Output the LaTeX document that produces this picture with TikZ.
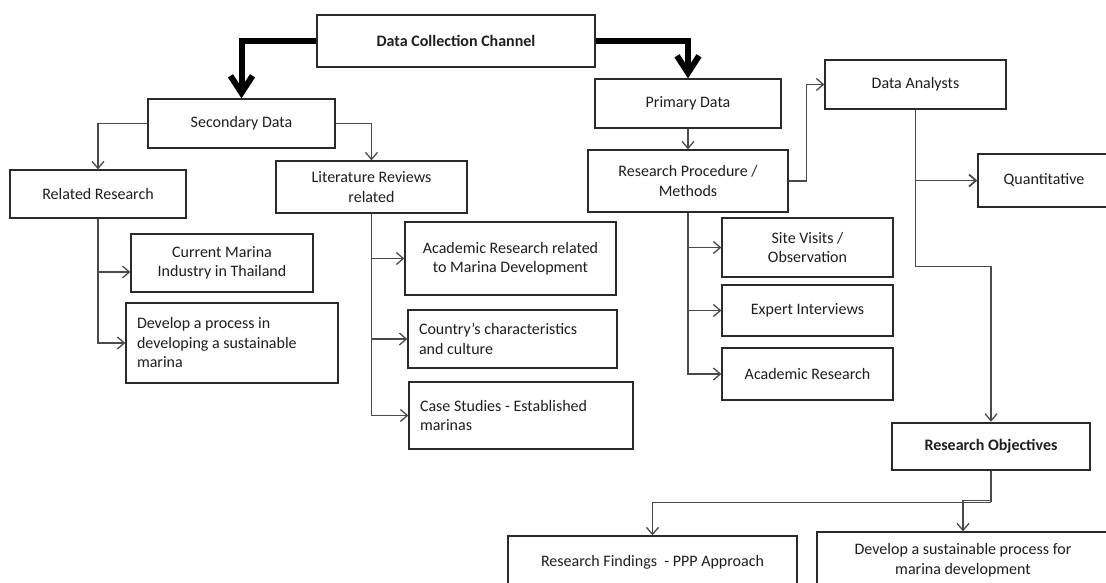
\documentclass[tikz,border=0pt]{standalone}
\usepackage{fontspec}
\setmainfont{Carlito}
\usetikzlibrary{arrows.meta,calc}
\definecolor{boxline}{HTML}{2A2A2A}
\definecolor{wire}{HTML}{4A4A4A}
\definecolor{ink}{HTML}{1E1E1E}
\begin{document}
\begin{tikzpicture}[x=1pt,y=-1pt,
  box/.style={draw=boxline,line width=1.3pt,inner sep=0pt,text=ink,
    font=\fontsize{16}{19.5}\selectfont,align=center},
  leftbox/.style={box,align=flush left},
  keybox/.style={box,line width=2.6pt,font=\fontsize{16}{19.5}\selectfont\bfseries},
  link/.style={draw=wire,line width=1.3pt,-{Straight Barb[length=7pt,width=12pt]}},
  trunk/.style={draw=wire,line width=1.3pt},
  bigarrow/.style={draw=black,line width=6pt,-{Straight Barb[length=17pt,width=22pt]}}]

\useasboundingbox (0,0) rectangle (1106,583);
\fill[white] (0,0) rectangle (1106,583);
\clip (0,0) rectangle (1106,583);

% top of the tree
\node[box,font=\fontsize{16}{19.5}\selectfont\bfseries,minimum width=278pt,minimum height=52pt] (dcc) at (456,41) {Data Collection Channel};

% secondary data branch
\node[box,minimum width=187pt,minimum height=49pt] (sec) at (241.5,123.5) {Secondary Data};
\node[box,minimum width=176pt,minimum height=48pt] (rel) at (98,194) {Related Research};
\node[box,minimum width=191pt,minimum height=52pt] (lit) at (371.5,187) {Literature Reviews\\related};
\node[box,minimum width=182pt,minimum height=58pt] (cur) at (222,263) {Current Marina\\Industry in Thailand};
\node[leftbox,minimum width=212pt,minimum height=80pt,text width=190pt] (dev) at (232,343) {Develop a process in\\developing a sustainable\\marina};
\node[box,minimum width=211pt,minimum height=73pt] (acr) at (510.5,258.5) {Academic Research related\\to Marina Development};
\node[leftbox,minimum width=209pt,minimum height=58pt,text width=187pt] (cty) at (512.5,339) {Country's characteristics\\and culture};
\node[leftbox,minimum width=224pt,minimum height=67pt,text width=202pt] (cas) at (521,415.5) {Case Studies - Established\\marinas};

% primary data branch
\node[box,minimum width=186pt,minimum height=49pt] (pri) at (688,103.5) {Primary Data};
\node[box,minimum width=200pt,minimum height=62pt] (rp) at (688,181) {Research Procedure /\\Methods};
\node[box,minimum width=171pt,minimum height=59pt] (sv) at (807.5,247.5) {Site Visits /\\Observation};
\node[box,minimum width=171pt,minimum height=51pt] (ei) at (807.5,310.5) {Expert Interviews};
\node[box,minimum width=171pt,minimum height=52pt] (ar) at (807.5,374) {Academic Research};

% analysis and objectives
\node[box,minimum width=181pt,minimum height=49pt] (da) at (915.5,84.5) {Data Analysts};
\node[box,minimum width=132pt,minimum height=53pt] (qt) at (1044,180.5) {Quantitative};
\node[keybox,minimum width=198pt,minimum height=47pt] (ro) at (991,446.5) {Research Objectives};
\node[box,minimum width=289pt,minimum height=52pt] (rf) at (652.5,562) {Research Findings \ - PPP Approach};
\node[box,minimum width=292pt,minimum height=56pt] (dsp) at (963,560) {Develop a sustainable process for\\marina development};

% heavy arrows from the channel
\draw[bigarrow] (dcc.west) -| (sec.north);
\draw[bigarrow] (dcc.east) -| (pri.north);

% secondary data connectors
\draw[link] (sec.west) -| (rel.north);
\draw[link] (sec.east) -| (lit.north);
\draw[link] (rel.south) |- ($(cur.west)+(0,9)$);
\draw[link] (rel.south) |- (dev.west);
\draw[link] (lit.south) |- (acr.west);
\draw[link] (lit.south) |- (cty.west);
\draw[link] (lit.south) |- (cas.west);

% primary data connectors
\draw[link] (pri.south) -- (rp.north);
\draw[link] (rp.south) |- (sv.west);
\draw[link] (rp.south) |- (ei.west);
\draw[link] (rp.south) |- (ar.west);
\draw[link] (rp.east) -- ++(18,0) |- (da.west);

% analysis connectors
\coordinate (daturn) at ($(da.south)+(0,157)$);
\draw[link] (da.south) -- (daturn) -| (ro.north);
\draw[link,line width=1.8pt] (da.south |- qt.west) -- (qt.west);

% outcomes
\coordinate (rosplit) at ($(ro.south)+(0,31)$);
\draw[trunk] (ro.south) -- (rosplit);
\draw[link] (rosplit) -| (rf.north);
\draw[link] ($(rosplit)+(0,-1.5)$) -| (dsp.north);
\end{tikzpicture}
\end{document}
